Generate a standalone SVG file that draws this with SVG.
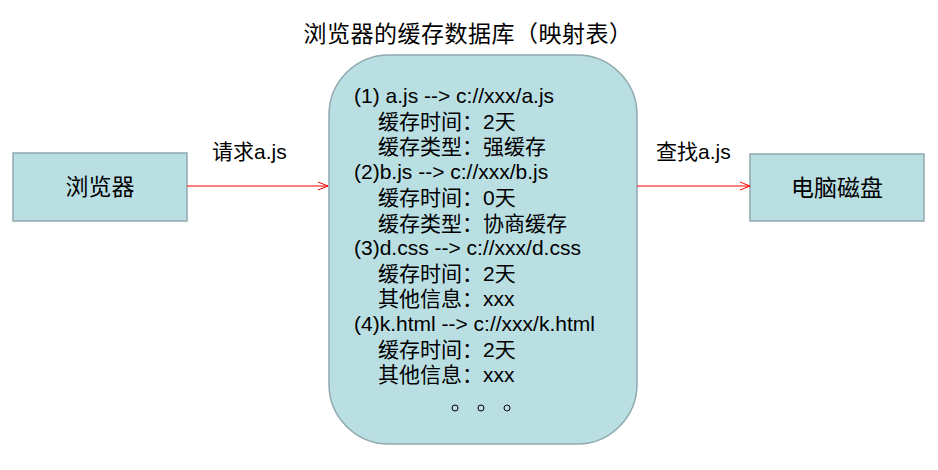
<svg xmlns="http://www.w3.org/2000/svg" width="938" height="470" viewBox="0 0 938 470">
<defs>
<style>
.box{fill:#badfe3;stroke:#8fa9ae;stroke-width:1.5}
text{font-family:"Liberation Sans","Noto Sans CJK SC",sans-serif;fill:#000}
.t{font-size:21px}
.h{font-size:23px}
.n{font-size:23px;text-anchor:middle}
.c{stroke:#ff0000;stroke-width:1;fill:none}
</style>
<marker id="ar" markerWidth="12" markerHeight="10" refX="11" refY="5" orient="auto" markerUnits="userSpaceOnUse">
<path d="M1,1 L11,5 L1,9" fill="none" stroke="#ff0000" stroke-width="1"/>
</marker>
</defs>
<text x="468" y="42" class="h" letter-spacing="0.5" text-anchor="middle">浏览器的缓存数据库（映射表）</text>
<g id="browser"><rect class="box" x="13" y="153" width="174" height="68"/><text class="n" x="100" y="195">浏览器</text></g>
<g id="disk"><rect class="box" x="750" y="154" width="174" height="67"/><text class="n" x="837" y="196">电脑磁盘</text></g>
<g id="db"><rect class="box" x="329" y="55" width="308" height="389" rx="60"/>
<text class="t" x="354" y="103">(1) a.js --&gt; c://xxx/a.js</text>
<text class="t" x="378" y="129">缓存时间：2天</text>
<text class="t" x="378" y="154">缓存类型：强缓存</text>
<text class="t" x="354" y="179">(2)b.js --&gt; c://xxx/b.js</text>
<text class="t" x="378" y="205">缓存时间：0天</text>
<text class="t" x="378" y="231">缓存类型：协商缓存</text>
<text class="t" x="354" y="255">(3)d.css --&gt; c://xxx/d.css</text>
<text class="t" x="378" y="281">缓存时间：2天</text>
<text class="t" x="378" y="306">其他信息：xxx</text>
<text class="t" x="354" y="331">(4)k.html --&gt; c://xxx/k.html</text>
<text class="t" x="378" y="357">缓存时间：2天</text>
<text class="t" x="378" y="382">其他信息：xxx</text>
<g fill="none" stroke="#000" stroke-width="1"><circle cx="455" cy="408" r="3"/><circle cx="481" cy="408" r="3"/><circle cx="507" cy="408" r="3"/></g>
</g>
<g id="connectors">
<line class="c" x1="187" y1="186" x2="328" y2="186" marker-end="url(#ar)"/>
<line class="c" x1="637" y1="186" x2="750" y2="186" marker-end="url(#ar)"/>
<text class="t" x="212" y="159">请求a.js</text>
<text class="t" x="656" y="159">查找a.js</text>
</g>
</svg>
